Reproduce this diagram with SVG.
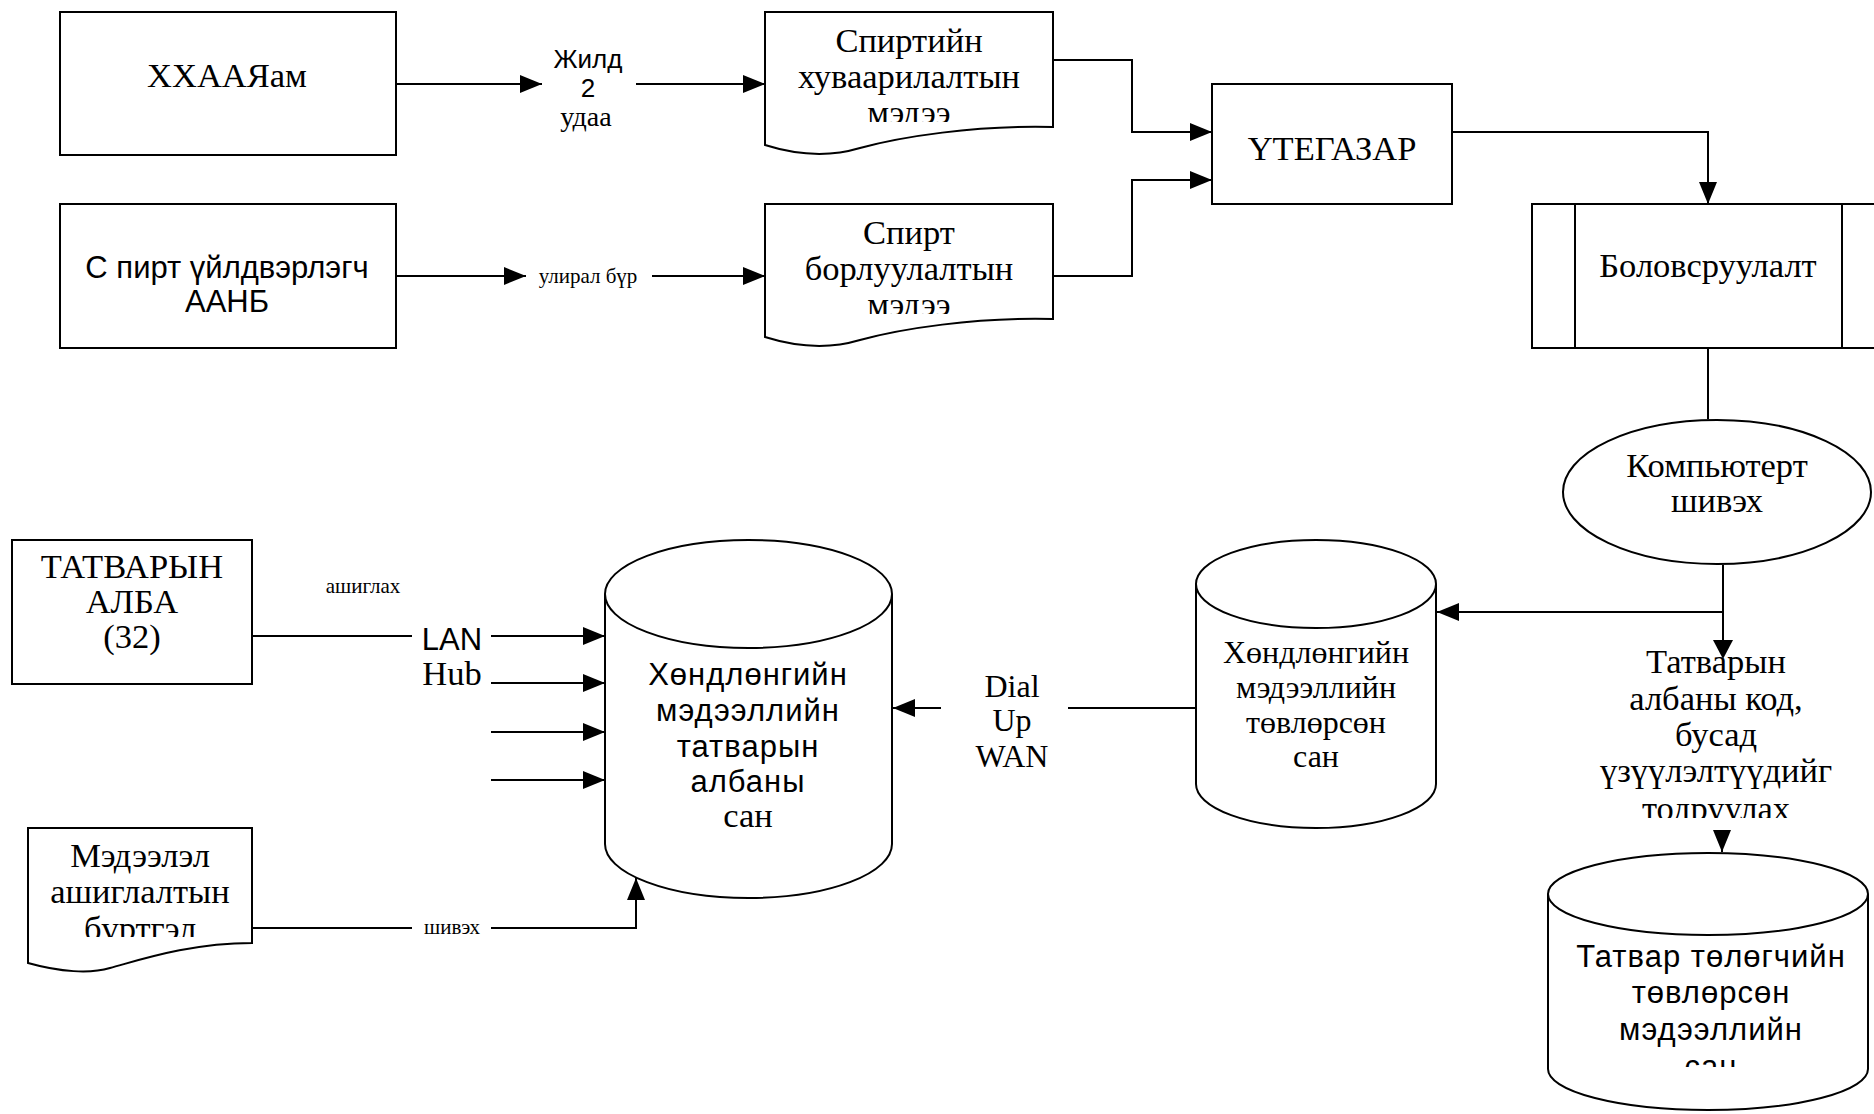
<svg xmlns="http://www.w3.org/2000/svg" width="1874" height="1114" viewBox="0 0 1874 1114">
<style>
.s{font-family:"Liberation Serif","Times New Roman",serif;font-size:34.5px;fill:#000}
.t{font-family:"Liberation Serif","Times New Roman",serif;font-size:32px;fill:#000}
.a{font-family:"Liberation Sans",Arial,sans-serif;font-size:31px;fill:#000}
.sm{font-family:"Liberation Serif","Times New Roman",serif;font-size:21px;fill:#000}
.box{fill:#fff;stroke:#000;stroke-width:2}
.ln{fill:none;stroke:#000;stroke-width:2}
.arr{fill:none;stroke:#000;stroke-width:2;marker-end:url(#ah)}
text{text-anchor:middle}
</style>
<defs>
<marker id="ah" markerUnits="userSpaceOnUse" markerWidth="22" markerHeight="18" refX="22" refY="9" orient="auto">
<path d="M0,0 L22,9 L0,18 Z" fill="#000"/>
</marker>
<clipPath id="c1"><rect x="765" y="12" width="288" height="110"/></clipPath>
<clipPath id="c2"><rect x="765" y="204" width="288" height="110"/></clipPath>
<clipPath id="c3"><rect x="28" y="828" width="224" height="109"/></clipPath>
<clipPath id="c4"><rect x="1560" y="640" width="300" height="178"/></clipPath>
<clipPath id="c5"><rect x="1548" y="930" width="320" height="137"/></clipPath>
</defs>
<rect width="1874" height="1114" fill="#fff"/>

<g id="connectors">
<line class="arr" x1="396" y1="84" x2="542" y2="84"/>
<line class="arr" x1="636" y1="84" x2="765" y2="84"/>
<line class="arr" x1="396" y1="276" x2="526" y2="276"/>
<line class="arr" x1="652" y1="276" x2="765" y2="276"/>
<polyline class="arr" points="1053,60 1132,60 1132,132 1212,132"/>
<polyline class="arr" points="1053,276 1132,276 1132,180 1212,180"/>
<polyline class="arr" points="1452,132 1708,132 1708,204"/>
<line class="ln" x1="1708" y1="348" x2="1708" y2="419"/>
<line class="ln" x1="1723" y1="565" x2="1723" y2="645"/>
<line class="arr" x1="1723" y1="612" x2="1437" y2="612"/>
<line class="arr" x1="1722" y1="830" x2="1722" y2="852"/>
<line class="ln" x1="1196" y1="708" x2="1068" y2="708"/>
<line class="arr" x1="941" y1="708" x2="893" y2="708"/>
<line class="ln" x1="252" y1="636" x2="412" y2="636"/>
<line class="arr" x1="491" y1="636" x2="605" y2="636"/>
<line class="arr" x1="491" y1="683" x2="605" y2="683"/>
<line class="arr" x1="491" y1="732" x2="605" y2="732"/>
<line class="arr" x1="491" y1="780" x2="605" y2="780"/>
<line class="ln" x1="252" y1="928" x2="412" y2="928"/>
<polyline class="arr" points="491,928 636,928 636,878"/>
</g>

<g id="labels">
<text class="a" x="588" y="68" style="font-size:26px">Жилд</text>
<text class="a" x="588" y="97" style="font-size:26px">2</text>
<text class="s" x="586" y="126" style="font-size:28px">удаа</text>
<text class="sm" x="588" y="283">улирал бүр</text>
<text class="sm" x="363" y="593">ашиглах</text>
<text class="a" x="452" y="650">LAN</text>
<text class="s" x="452" y="685">Hub</text>
<text class="sm" x="452" y="934">шивэх</text>
<text class="t" x="1012" y="697">Dial</text>
<text class="t" x="1012" y="731">Up</text>
<text class="t" x="1012" y="767">WAN</text>
</g>

<g id="n-xxaayam">
<rect class="box" x="60" y="12" width="336" height="143"/>
<text class="s" x="227" y="87">ХХААЯам</text>
</g>

<g id="n-spirt-uildverlegch">
<rect class="box" x="60" y="204" width="336" height="144"/>
<text class="a" x="227" y="278">С пирт үйлдвэрлэгч</text>
<text class="a" x="227" y="312">ААНБ</text>
</g>

<g id="n-doc-huvaarilalt">
<path class="box" d="M765,12 H1053 V127 C975,125 900,137 860,148 C830,157 800,156 765,145 Z"/>
<text class="s" x="909" y="52">Спиртийн</text>
<text class="s" x="909" y="88">хуваарилалтын</text>
<text class="s" x="909" y="124" clip-path="url(#c1)">мэдээ</text>
</g>

<g id="n-doc-borluulalt">
<path class="box" d="M765,204 H1053 V319 C975,317 900,329 860,340 C830,349 800,348 765,337 Z"/>
<text class="s" x="909" y="244">Спирт</text>
<text class="s" x="909" y="280">борлуулалтын</text>
<text class="s" x="909" y="316" clip-path="url(#c2)">мэдээ</text>
</g>

<g id="n-utegazar">
<rect class="box" x="1212" y="84" width="240" height="120"/>
<text class="s" x="1332" y="160">ҮТЕГАЗАР</text>
</g>

<g id="n-bolovsruulalt">
<rect class="box" x="1532" y="204" width="352" height="144"/>
<line class="ln" x1="1575" y1="204" x2="1575" y2="348"/>
<line class="ln" x1="1842" y1="204" x2="1842" y2="348"/>
<text class="s" x="1708" y="277">Боловсруулалт</text>
</g>

<g id="n-computer">
<ellipse class="box" cx="1717" cy="492" rx="154" ry="72"/>
<text class="s" x="1717" y="477">Компьютерт</text>
<text class="s" x="1717" y="512">шивэх</text>
</g>

<g id="n-note">
<g clip-path="url(#c4)">
<text class="s" x="1716" y="673">Татварын</text>
<text class="s" x="1716" y="710">албаны код,</text>
<text class="s" x="1716" y="746">бусад</text>
<text class="s" x="1716" y="782">үзүүлэлтүүдийг</text>
<text class="s" x="1716" y="820">тодруулах</text>
</g>
</g>

<g id="n-tatvar-alba">
<rect class="box" x="12" y="540" width="240" height="144"/>
<text class="s" x="132" y="578">ТАТВАРЫН</text>
<text class="s" x="132" y="613">АЛБА</text>
<text class="s" x="132" y="648">(32)</text>
</g>

<g id="n-doc-burtgel">
<path class="box" d="M28,828 H252 V943 C190,943 140,960 110,968 C90,974 60,972 28,963 Z"/>
<text class="s" x="140" y="867">Мэдээлэл</text>
<text class="s" x="140" y="903">ашиглалтын</text>
<text class="s" x="140" y="940" clip-path="url(#c3)">бүртгэл</text>
</g>

<g id="n-db-alba">
<path class="box" d="M605,594 A143.5,54 0 0 1 892,594 V844 A143.5,54 0 0 1 605,844 Z"/>
<path class="ln" d="M605,594 A143.5,54 0 0 0 892,594"/>
<text class="a" x="748" y="685" style="letter-spacing:1px">Хөндлөнгийн</text>
<text class="a" x="748" y="721" style="letter-spacing:1px">мэдээллийн</text>
<text class="a" x="748" y="757" style="letter-spacing:1px">татварын</text>
<text class="a" x="748" y="792" style="letter-spacing:1px">албаны</text>
<text class="s" x="748" y="827">сан</text>
</g>

<g id="n-db-tuvlursun">
<path class="box" d="M1196,584 A120,44 0 0 1 1436,584 V784 A120,44 0 0 1 1196,784 Z"/>
<path class="ln" d="M1196,584 A120,44 0 0 0 1436,584"/>
<text class="t" x="1316" y="663">Хөндлөнгийн</text>
<text class="t" x="1316" y="698">мэдээллийн</text>
<text class="t" x="1316" y="733">төвлөрсөн</text>
<text class="t" x="1316" y="767">сан</text>
</g>

<g id="n-db-tatvar-tulugch">
<path class="box" d="M1548,894 A160,41 0 0 1 1868,894 V1069 A160,41 0 0 1 1548,1069 Z"/>
<path class="ln" d="M1548,894 A160,41 0 0 0 1868,894"/>
<g clip-path="url(#c5)">
<text class="a" x="1711" y="967" style="letter-spacing:1px">Татвар төлөгчийн</text>
<text class="a" x="1711" y="1003" style="letter-spacing:1px">төвлөрсөн</text>
<text class="a" x="1711" y="1040" style="letter-spacing:1px">мэдээллийн</text>
<text class="a" x="1711" y="1077" style="letter-spacing:1px">сан</text>
</g>
</g>

<g id="arrowtop">
<path d="M1713,640 L1733,640 L1723,659 Z" fill="#000"/>
</g>
</svg>
